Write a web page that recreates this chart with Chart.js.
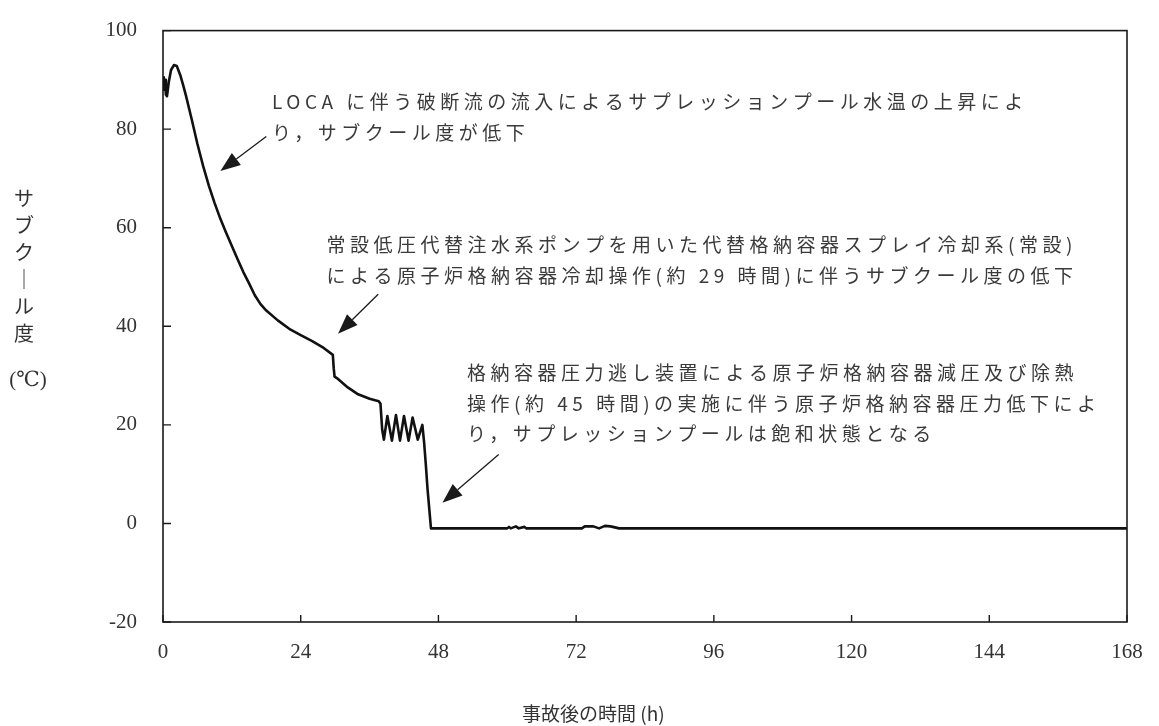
<!DOCTYPE html>
<html><head><meta charset="utf-8">
<script src="https://cdn.jsdelivr.net/npm/chart.js@4.4.1/dist/chart.umd.min.js"></script>
<style>html,body{margin:0;padding:0;background:#fff;}#wrap{width:1159px;height:726px;position:relative;}</style>
</head><body><div id="wrap"><canvas id="c" width="1159" height="726"></canvas></div>
<script>
// ---- data ----
const timeH = [0,0.15,0.35,0.5,0.7,1.0,1.4,1.9,2.4,3.0,3.5,4.0,5.0,6.0,7.0,8.0,9.0,10.0,11.0,12.0,13.0,14.0,15.0,16.0,17.0,18.0,20.0,22.0,24.0,26.0,28.0,29.6,29.75,29.9,30.3,31.0,32.2,34.0,36.0,37.6,37.9,38.2,38.5,39.1,39.9,40.6,41.3,42.0,42.8,43.5,44.4,45.2,45.5,45.8,46.1,46.4,46.7,50,60,60.3,60.6,61.5,62,63,63.3,73,73.5,75,76,77,78,79.5,168];
const subcool = [90.5,88.0,90.0,87.0,86.7,89.5,92.0,93.0,92.8,91.0,89.0,86.8,82.0,77.0,72.5,68.5,65.0,61.8,59.0,56.3,53.6,51.0,48.7,46.3,44.5,43.2,41.2,39.5,38.2,37.0,35.6,34.2,31.5,29.8,29.5,28.8,27.6,26.2,25.3,24.8,24.3,19.0,17.0,21.8,16.8,22.0,16.8,21.8,16.8,21.5,17.0,20.0,16.5,12.0,7.0,3.0,-1.0,-1.0,-1.0,-0.7,-1.0,-0.6,-1.0,-0.7,-1.0,-1.0,-0.6,-0.6,-1.0,-0.5,-0.6,-1.0,-1.0];
const xTickValues = [0,24,48,72,96,120,144,168];
const yTickValues = [-20,0,20,40,60,80,100];
const xTitle = '事故後の時間 (h)';
const yTitleChars = ['サ','ブ','ク','｜','ル','度'];
const yTitleUnit = '(℃)';
const note1 = ['LOCA に伴う破断流の流入によるサプレッションプール水温の上昇によ','り，サブクール度が低下'];
const note2 = ['常設低圧代替注水系ポンプを用いた代替格納容器スプレイ冷却系(常設)','による原子炉格納容器冷却操作(約 29 時間)に伴うサブクール度の低下'];
const note3 = ['格納容器圧力逃し装置による原子炉格納容器減圧及び除熱','操作(約 45 時間)の実施に伴う原子炉格納容器圧力低下によ','り，サプレッションプールは飽和状態となる'];
const noteAnchors = [[19,[85.5,79.3]],[28.5,[56.5,50.3]],[53,[30.5,24.3,18.1]]];
const arrowList = [[[18.0,78.5],[10,71.5]],[[37.5,46.5],[30.5,38.5]],[[58.5,14],[48.7,4.2]]];

const INK = '#1a1a1a';
const CJK = '"Noto Sans CJK JP", "Noto Sans", sans-serif';
const SERIF = '"Liberation Serif", "DejaVu Serif", serif';

const decor = {
  id: 'decor',
  afterDraw(chart) {
    const ctx = chart.ctx, a = chart.chartArea;
    const xs = chart.scales.x, ys = chart.scales.y;
    ctx.save();
    // frame
    ctx.strokeStyle = INK; ctx.lineWidth = 1.6;
    ctx.strokeRect(a.left, a.top, a.right - a.left, a.bottom - a.top);
    // inward ticks
    ctx.lineWidth = 1.4;
    ctx.beginPath();
    yTickValues.forEach(v => { const p = ys.getPixelForValue(v); ctx.moveTo(a.left, p); ctx.lineTo(a.left + 8, p); });
    xTickValues.forEach(v => { const p = xs.getPixelForValue(v); ctx.moveTo(p, a.bottom); ctx.lineTo(p, a.bottom - 7); });
    ctx.stroke();
    // notes
    ctx.fillStyle = '#3a3a3a';
    ctx.font = '19px ' + CJK;
    if ('letterSpacing' in ctx) ctx.letterSpacing = '4.5px';
    ctx.textAlign = 'left'; ctx.textBaseline = 'middle';
    [note1, note2, note3].forEach((lines, i) => {
      const [t, vs] = noteAnchors[i];
      lines.forEach((s, j) => ctx.fillText(s, xs.getPixelForValue(t), ys.getPixelForValue(vs[j])));
    });
    if ('letterSpacing' in ctx) ctx.letterSpacing = '0px';
    // arrows
    ctx.strokeStyle = INK; ctx.fillStyle = INK; ctx.lineWidth = 1.3;
    arrowList.forEach(([f, t]) => {
      const x0 = xs.getPixelForValue(f[0]), y0 = ys.getPixelForValue(f[1]);
      const x1 = xs.getPixelForValue(t[0]), y1 = ys.getPixelForValue(t[1]);
      const ang = Math.atan2(y1 - y0, x1 - x0), L = 20, W = 7.5;
      const bx = x1 - L * Math.cos(ang), by = y1 - L * Math.sin(ang);
      ctx.beginPath(); ctx.moveTo(x0, y0); ctx.lineTo(bx, by); ctx.stroke();
      ctx.beginPath(); ctx.moveTo(x1, y1);
      ctx.lineTo(bx + W * Math.sin(ang), by - W * Math.cos(ang));
      ctx.lineTo(bx - W * Math.sin(ang), by + W * Math.cos(ang));
      ctx.closePath(); ctx.fill();
    });
    // y title (vertical)
    ctx.fillStyle = '#333'; ctx.textAlign = 'center'; ctx.textBaseline = 'middle';
    ctx.font = '20px ' + CJK;
    yTitleChars.forEach((ch, i) => ctx.fillText(ch, 24, a.top + 168 + i * 27));
    ctx.font = '21px ' + SERIF;
    ctx.fillText(yTitleUnit, 28, a.top + 350);
    // x title
    ctx.font = '19px ' + CJK;
    ctx.fillText(xTitle, xs.getPixelForValue(75), a.bottom + 92);
    ctx.restore();
  }
};

new Chart(document.getElementById('c'), {
  type: 'line',
  data: { datasets: [{
    data: timeH.map((t, i) => ({ x: t, y: subcool[i] })),
    borderColor: '#111', borderWidth: 2.6, pointRadius: 0, tension: 0, fill: false,
    borderJoinStyle: 'round', borderCapStyle: 'round'
  }] },
  options: {
    responsive: false, animation: false, devicePixelRatio: 1,
    layout: { autoPadding: false, padding: { top: 18, right: 32, left: 0, bottom: 0 } },
    plugins: { legend: { display: false }, tooltip: { enabled: false } },
    scales: {
      x: {
        type: 'linear', min: 0, max: 168,
        afterBuildTicks: s => { s.ticks = xTickValues.map(v => ({ value: v })); },
        afterFit: s => { s.height = 104; },
        grid: { display: false }, border: { display: false },
        ticks: { padding: 10, color: '#333', font: { family: SERIF, size: 21 }, maxRotation: 0, autoSkip: false }
      },
      y: {
        type: 'linear', min: -20, max: 100,
        afterBuildTicks: s => { s.ticks = yTickValues.map(v => ({ value: v })); },
        afterFit: s => { s.width = 163; },
        grid: { display: false }, border: { display: false },
        ticks: { padding: 18, color: '#333', font: { family: SERIF, size: 21 } }
      }
    }
  },
  plugins: [decor]
});
</script></body></html>
